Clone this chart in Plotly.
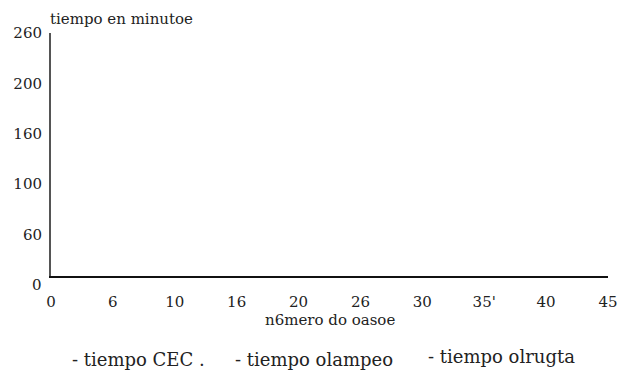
import plotly.graph_objects as go

# Data (chart shows empty axes: series have no values)
series_names = ["tiempo CEC .", "tiempo olampeo", "tiempo olrugta"]
series_x = [[], [], []]
series_y = [[], [], []]
x_tick_labels = ["0", "6", "10", "16", "20", "26", "30", "35'", "40", "45"]
y_tick_labels = ["0", "60", "100", "160", "200", "260"]
y_title = "tiempo en minutoe"
x_title = "n6mero do oasoe"

FONT = "DejaVu Serif"
FS = 15
FS_LEG = 18
TXT = "#222222"
W, H = 618, 371
ML, MR, MT, MB = 51, 10, 33, 95
PW, PH = W - ML - MR, H - MT - MB
Y_LO = 0.18

fig = go.Figure()
for name, xs, ys in zip(series_names, series_x, series_y):
    fig.add_trace(go.Scatter(x=xs, y=ys, name=name, mode="lines", showlegend=False))

x_idx = list(range(len(x_tick_labels)))
y_idx = list(range(len(y_tick_labels)))

fig.update_layout(
    width=W, height=H,
    margin=dict(l=ML, r=MR, t=MT, b=MB, autoexpand=False),
    paper_bgcolor="white", plot_bgcolor="white",
    font=dict(family=FONT, size=FS, color=TXT),
    xaxis=dict(range=[x_idx[0], x_idx[-1]], tickvals=x_idx, ticktext=x_tick_labels,
               showgrid=False, zeroline=False, showline=True, linecolor="#111111", linewidth=2,
               ticks="outside", ticklen=11, tickcolor="rgba(0,0,0,0)", automargin=False,
               ticklabeloverflow="allow",
               tickfont=dict(family=FONT, size=FS, color=TXT)),
    yaxis=dict(range=[Y_LO, y_idx[-1]], tickvals=y_idx[1:], ticktext=y_tick_labels[1:],
               showgrid=False, zeroline=False, showline=True, linecolor="#555555", linewidth=2,
               ticks="outside", ticklen=4, tickcolor="rgba(0,0,0,0)", automargin=False,
               ticklabeloverflow="allow",
               tickfont=dict(family=FONT, size=FS, color=TXT)),
    showlegend=False,
)


def px_x(px):
    return (px - ML) / PW


def px_y(py):
    return (H - MB - py) / PH


annotations = []
# bottom y tick label (sits below the x-axis line)
annotations.append(dict(x=0, xref="paper", xshift=-7,
                        y=(y_idx[0] - Y_LO) / (y_idx[-1] - Y_LO), yref="paper",
                        text=y_tick_labels[0], showarrow=False, xanchor="right", yanchor="middle",
                        font=dict(family=FONT, size=FS, color=TXT)))
# axis titles
annotations.append(dict(x=px_x(48), xref="paper", y=px_y(19), yref="paper",
                        text=y_title, showarrow=False, xanchor="left", yanchor="middle",
                        font=dict(family=FONT, size=FS, color=TXT)))
annotations.append(dict(x=px_x(330), xref="paper", y=px_y(320), yref="paper",
                        text=x_title, showarrow=False, xanchor="center", yanchor="middle",
                        font=dict(family=FONT, size=FS, color=TXT)))
# legend-like labels
legend_x = [70, 233, 426]
legend_y = [359, 359, 356]
for name, lx, ly in zip(series_names, legend_x, legend_y):
    annotations.append(dict(x=px_x(lx), xref="paper", y=px_y(ly), yref="paper",
                            text="- " + name, showarrow=False, xanchor="left", yanchor="middle",
                            font=dict(family=FONT, size=FS_LEG, color=TXT)))
fig.update_layout(annotations=annotations)

fig.write_html(
    "out.html",
    config={"displayModeBar": False},
    post_script="document.body.style.margin='0';document.body.style.overflow='hidden';",
)
